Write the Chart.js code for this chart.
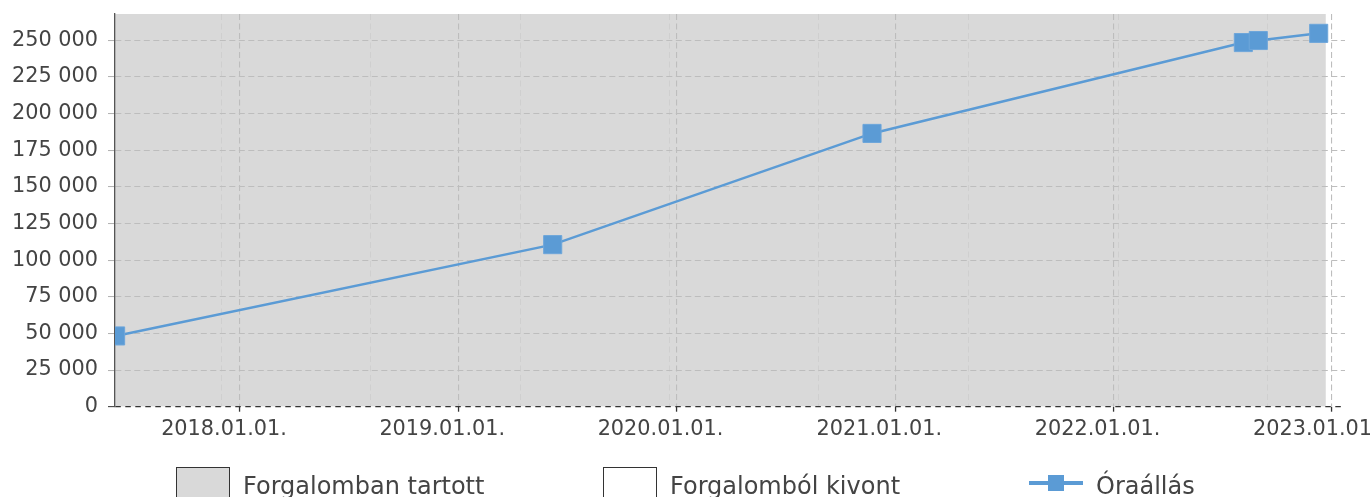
<!DOCTYPE html>
<html>
<head>
<meta charset="utf-8">
<script src="https://cdn.jsdelivr.net/npm/chart.js@4/dist/chart.umd.min.js"></script>
<style>
  html, body { margin: 0; padding: 0; background: #fff; overflow: hidden; }
  #wrap { position: relative; width: 1370px; height: 497px; overflow: hidden; }
  #chartBox { position: absolute; left: 0; top: 0; width: 1370px; height: 497px; }
  .lg { position: absolute; font-family: "DejaVu Sans", sans-serif; font-size: 24px; line-height: 24px; color: #444; white-space: nowrap; }
  .sw { position: absolute; box-sizing: border-box; border: 1.3px solid #333; }
</style>
</head>
<body>
<div id="wrap">
  <div id="chartBox"><canvas id="c"></canvas></div>
  <div id="legend"></div>
</div>
<script>
// ---- data ----
const seriesNames = ['Forgalomban tartott', 'Forgalomból kivont', 'Óraállás'];
const readingDates = ['2017-06-07', '2019-06-08', '2020-11-23', '2022-08-06', '2022-08-31', '2022-12-10'];
const readingValues = [48300, 110600, 186500, 248500, 249900, 254800];
const inServiceStart = '2017-06-06';
const inServiceEnd = '2022-12-22';
const xRange = ['2017-06-06', '2023-01-23'];
const yearTicks = ['2018-01-01', '2019-01-01', '2020-01-01', '2021-01-01', '2022-01-01', '2023-01-01'];
const minorTicks = ['2017-12-01', '2018-08-08', '2019-04-15', '2019-12-20', '2020-08-26', '2021-05-03', '2022-01-09', '2022-09-16'];
const yTicks = [0, 25000, 50000, 75000, 100000, 125000, 150000, 175000, 200000, 225000, 250000];
const yMax = 268000;

const t = s => Date.parse(s + 'T00:00:00Z');
const fmtDate = v => { const d = new Date(v); const p = n => String(n).padStart(2, '0'); return d.getUTCFullYear() + '.' + p(d.getUTCMonth() + 1) + '.' + p(d.getUTCDate()) + '.'; };
const fmtNum = v => String(v).replace(/\B(?=(\d{3})+(?!\d))/g, ' ');

const BLUE = '#5b9bd5';
const GRAY = '#d9d9d9';
const tickFont = { family: 'DejaVu Sans', size: 20.8 };
const isZero = c => c.tick && c.tick.value === 0;

const chart = new Chart(document.getElementById('c'), {
  type: 'line',
  data: {
    datasets: [
      {
        label: seriesNames[2],
        data: readingDates.map((d, i) => ({ x: t(d), y: readingValues[i] })),
        borderColor: BLUE, backgroundColor: BLUE,
        borderWidth: 2.5, tension: 0, fill: false,
        pointStyle: 'rect', pointRadius: 12.8, pointBorderWidth: 1,
        pointBorderColor: '#6ea6da', pointBackgroundColor: BLUE,
        order: 0
      },
      {
        label: seriesNames[0],
        data: [{ x: t(inServiceStart), y: yMax }, { x: t(inServiceEnd), y: yMax }],
        borderColor: 'rgba(0,0,0,0)', backgroundColor: GRAY,
        borderWidth: 0, pointRadius: 0, fill: 'origin', order: 1
      },
      {
        label: seriesNames[1],
        data: [],
        borderColor: '#333', backgroundColor: '#fff', order: 2
      }
    ]
  },
  options: {
    responsive: true,
    maintainAspectRatio: false,
    animation: false,
    layout: { padding: { left: 0, right: 25, top: 14, bottom: 0 } },
    plugins: {
      legend: { display: false },
      tooltip: { enabled: false },
      filler: { drawTime: 'beforeDraw' }
    },
    scales: {
      x: {
        type: 'linear',
        min: t(xRange[0]), max: t(xRange[1]),
        afterBuildTicks: s => { s.ticks = yearTicks.map(d => ({ value: t(d) })); },
        afterFit: s => { s.height = 90.3; s.paddingLeft = 0; s.paddingRight = 0; },
        ticks: {
          callback: v => fmtDate(v), font: tickFont, color: '#444',
          maxRotation: 0, autoSkip: false, padding: 5, labelOffset: -16
        },
        grid: {
          color: '#bdbdbd', lineWidth: 1.1,
          tickColor: '#333', tickLength: 5, tickWidth: 1.3
        },
        border: { display: false, dash: [6, 3.5] }
      },
      xMinor: {
        type: 'linear', position: 'bottom',
        min: t(xRange[0]), max: t(xRange[1]),
        afterBuildTicks: s => { s.ticks = minorTicks.map(d => ({ value: t(d) })); },
        afterFit: s => { s.height = 0; s.paddingLeft = 0; s.paddingRight = 0; },
        ticks: { display: false },
        grid: { color: '#cfcfcf', lineWidth: 1, drawTicks: false },
        border: { display: false, dash: [6, 3.5] }
      },
      y: {
        min: 0, max: yMax,
        afterBuildTicks: s => { s.ticks = yTicks.map(v => ({ value: v })); },
        afterFit: s => { s.width = 115; s.paddingTop = 0; s.paddingBottom = 0; },
        ticks: { callback: v => fmtNum(v), font: tickFont, color: '#444', padding: 10 },
        grid: {
          color: c => isZero(c) ? '#333' : '#bdbdbd',
          lineWidth: c => isZero(c) ? 1.3 : 1.1,
          tickColor: c => isZero(c) ? '#333' : '#b0b0b0',
          tickLength: 7, tickWidth: 1
        },
        border: {
          display: true, color: '#555', width: 1.3,
          dash: c => isZero(c) ? [5.5, 4.5] : [6, 3.5]
        }
      }
    }
  }
});

// ---- legend (equal-width columns as in the reference) ----
const legendEl = document.getElementById('legend');
const cols = [176, 603, 1031];
const kinds = ['gray', 'white', 'line'];
seriesNames.forEach((name, i) => {
  const x = cols[i];
  if (kinds[i] === 'line') {
    const ln = document.createElement('div');
    ln.style.cssText = `position:absolute;left:${x - 2}px;top:481px;width:54px;height:4px;background:${BLUE};`;
    const sq = document.createElement('div');
    sq.style.cssText = `position:absolute;left:${x + 17}px;top:475px;width:16px;height:16px;background:${BLUE};`;
    legendEl.appendChild(ln); legendEl.appendChild(sq);
  } else {
    const b = document.createElement('div');
    b.className = 'sw';
    b.style.cssText = `left:${x}px;top:467px;width:54px;height:36px;background:${kinds[i] === 'gray' ? GRAY : '#fff'};`;
    legendEl.appendChild(b);
  }
  const tx = document.createElement('div');
  tx.className = 'lg';
  tx.textContent = name;
  tx.style.left = (kinds[i] === 'line' ? x + 65 : x + 67) + 'px';
  tx.style.top = '474px';
  legendEl.appendChild(tx);
});
</script>
</body>
</html>
